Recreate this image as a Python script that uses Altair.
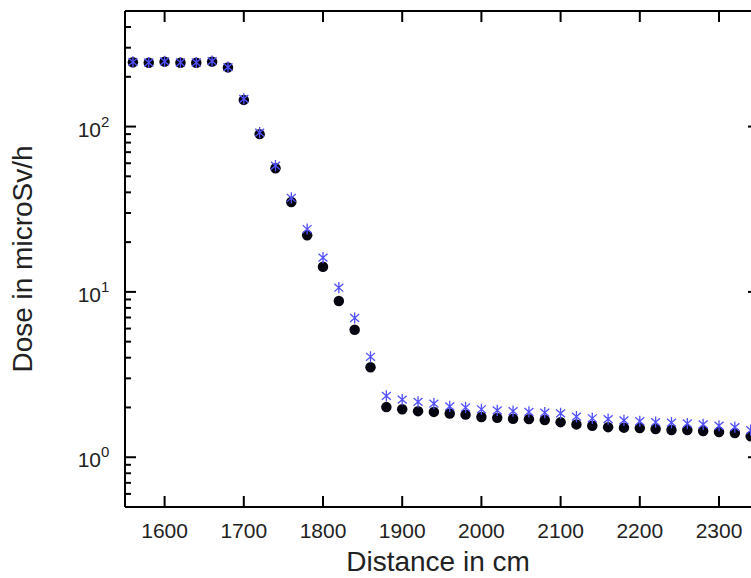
import altair as alt
import pandas as pd

# ---- data ----
distance = [1560, 1580, 1600, 1620, 1640, 1660, 1680, 1700, 1720, 1740,
            1760, 1780, 1800, 1820, 1840, 1860, 1880, 1900, 1920, 1940,
            1960, 1980, 2000, 2020, 2040, 2060, 2080, 2100, 2120, 2140,
            2160, 2180, 2200, 2220, 2240, 2260, 2280, 2300, 2320, 2340]
dose_circle = [245, 243, 247, 243, 243, 247, 228, 145, 90, 56,
               35, 22, 14.2, 8.8, 5.9, 3.5, 2.01, 1.95, 1.90, 1.88,
               1.84, 1.81, 1.75, 1.73, 1.71, 1.70, 1.68, 1.63, 1.58, 1.55,
               1.52, 1.51, 1.50, 1.48, 1.46, 1.46, 1.44, 1.42, 1.40, 1.34]
dose_star = [246, 244, 248, 244, 244, 249, 229, 147, 92, 58,
             37, 24, 16.1, 10.6, 6.95, 4.05, 2.35, 2.23, 2.16, 2.11,
             2.03, 2.00, 1.95, 1.92, 1.90, 1.88, 1.86, 1.84, 1.76, 1.72,
             1.70, 1.67, 1.65, 1.63, 1.62, 1.60, 1.58, 1.55, 1.52, 1.46]

x_major = [1600, 1700, 1800, 1900, 2000, 2100, 2200, 2300]
y_major = [1, 10, 100]
y_exp = ["0", "1", "2"]
y_minor = [0.6, 0.7, 0.8, 0.9, 2, 3, 4, 5, 6, 7, 8, 9,
           20, 30, 40, 50, 60, 70, 80, 90, 200, 300, 400]
x_title = "Distance in cm"
y_title = "Dose in microSv/h"

W, H = 626, 496
FONT = "Liberation Sans"
TXT = "#222222"
STAR = "M0,-1L0,1M-0.8,-0.7L0.8,0.7M-0.8,0.7L0.8,-0.7"

df = pd.DataFrame({"distance": distance, "circle": dose_circle, "star": dose_star})
xmaj = pd.DataFrame({"v": x_major})
ymaj = pd.DataFrame({"v": y_major, "e": y_exp})
ymin = pd.DataFrame({"v": y_minor})
one = pd.DataFrame({"a": [0]})

xscale = alt.Scale(domain=[1550, 2340.4], nice=False, zero=False)
yscale = alt.Scale(type="log", domain=[0.5, 500], nice=False)


def X(f):
    return alt.X(f, scale=xscale, axis=None)


def Y(f):
    return alt.Y(f, scale=yscale, axis=None)


circles = alt.Chart(df).mark_point(
    shape="circle", filled=True, size=110, color="#050510", opacity=1
).encode(x=X("distance:Q"), y=Y("circle:Q"))

stars = alt.Chart(df).mark_point(
    shape=STAR, filled=False, size=125, color="#5050ff", strokeWidth=1.3, opacity=1
).encode(x=X("distance:Q"), y=Y("star:Q"))

rule = dict(color="black", strokeWidth=2)
frame_top = alt.Chart(one).mark_rule(**rule).encode(
    x=alt.value(0), x2=alt.value(W), y=alt.value(0))
frame_bottom = alt.Chart(one).mark_rule(**rule).encode(
    x=alt.value(0), x2=alt.value(W), y=alt.value(H))
frame_left = alt.Chart(one).mark_rule(**rule).encode(
    x=alt.value(0), y=alt.value(0), y2=alt.value(H))

left_major = alt.Chart(ymaj).mark_rule(**rule).encode(
    y=Y("v:Q"), x=alt.value(0), x2=alt.value(11))
left_minor = alt.Chart(ymin).mark_rule(**rule).encode(
    y=Y("v:Q"), x=alt.value(0), x2=alt.value(6))
right_major = alt.Chart(ymaj).mark_rule(**rule).encode(
    y=Y("v:Q"), x=alt.value(623), x2=alt.value(634))
bottom_major = alt.Chart(xmaj).mark_rule(**rule).encode(
    x=X("v:Q"), y=alt.value(H), y2=alt.value(H - 11))
top_major = alt.Chart(xmaj).mark_rule(**rule).encode(
    x=X("v:Q"), y=alt.value(0), y2=alt.value(11))

x_labels = alt.Chart(xmaj).mark_text(
    align="center", baseline="top", font=FONT, fontSize=21, color=TXT
).encode(x=X("v:Q"), y=alt.value(H + 14), text=alt.Text("v:Q", format="d"))

ten_labels = alt.Chart(ymaj).mark_text(
    align="right", baseline="middle", font=FONT, fontSize=21, color=TXT, dy=4
).encode(y=Y("v:Q"), x=alt.value(-24), text=alt.value("10"))
exp_labels = alt.Chart(ymaj).mark_text(
    align="left", baseline="middle", font=FONT, fontSize=15, color=TXT, dy=-5
).encode(y=Y("v:Q"), x=alt.value(-24), text="e:N")

x_title_mark = alt.Chart(one).mark_text(
    align="center", baseline="alphabetic", font=FONT, fontSize=28, color=TXT
).encode(x=alt.value(W / 2), y=alt.value(H + 64), text=alt.value(x_title))
y_title_mark = alt.Chart(one).mark_text(
    align="center", baseline="alphabetic", font=FONT, fontSize=28, color=TXT, angle=270
).encode(x=alt.value(-93), y=alt.value(H / 2), text=alt.value(y_title))

chart = alt.layer(
    circles, stars,
    frame_top, frame_bottom, frame_left,
    left_major, left_minor, right_major, bottom_major, top_major,
    x_labels, ten_labels, exp_labels, x_title_mark, y_title_mark,
).properties(
    width=W, height=H,
    autosize=alt.AutoSizeParams(type="none"),
    padding={"left": 125, "top": 11, "right": 0, "bottom": 71},
    background="white",
).configure_view(stroke=None)

chart.save("out.html", embed_options={"renderer": "svg", "actions": False})
